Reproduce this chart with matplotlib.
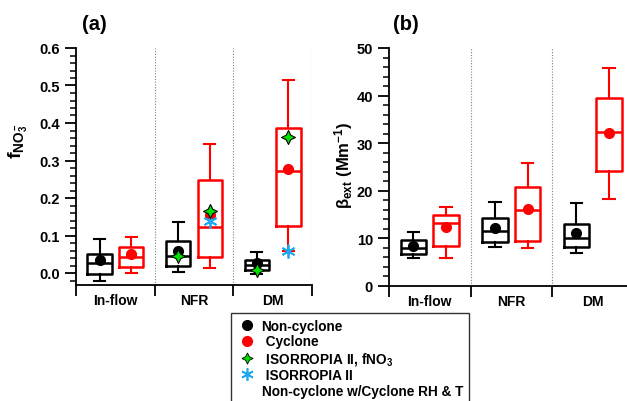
import numpy as np
import matplotlib.pyplot as plt
from matplotlib.lines import Line2D

# ---------------------------------------------------------------
# Data
# ---------------------------------------------------------------
categories = ["In-flow", "NFR", "DM"]

# (a) f NO3- : whisker low, q1, median, q3, whisker high, mean
fno3_non_lo = [-0.020, 0.003, -0.003]
fno3_non_q1 = [-0.002, 0.020, 0.009]
fno3_non_med = [0.028, 0.046, 0.022]
fno3_non_q3 = [0.050, 0.085, 0.036]
fno3_non_hi = [0.090, 0.137, 0.055]
fno3_non_mean = [0.034, 0.058, 0.026]

fno3_cyc_lo = [0.000, 0.013, 0.060]
fno3_cyc_q1 = [0.016, 0.044, 0.125]
fno3_cyc_med = [0.042, 0.122, 0.273]
fno3_cyc_q3 = [0.069, 0.247, 0.388]
fno3_cyc_hi = [0.097, 0.345, 0.516]
fno3_cyc_mean = [0.052, 0.155, 0.277]

# ISORROPIA II results
iso_fno3_non = [np.nan, 0.046, 0.008]
iso_fno3_cyc = [np.nan, 0.165, 0.362]
iso_rh_t = [np.nan, 0.140, 0.058]

# (b) beta ext [Mm-1]
bext_non_lo = [5.9, 8.2, 6.9]
bext_non_q1 = [6.7, 9.3, 8.1]
bext_non_med = [7.9, 11.5, 10.1]
bext_non_q3 = [9.7, 14.2, 13.0]
bext_non_hi = [11.4, 17.7, 17.4]
bext_non_mean = [8.3, 12.1, 11.1]

bext_cyc_lo = [5.9, 7.9, 18.3]
bext_cyc_q1 = [8.3, 9.5, 24.2]
bext_cyc_med = [13.2, 16.0, 32.4]
bext_cyc_q3 = [14.9, 20.9, 39.4]
bext_cyc_hi = [16.7, 25.8, 45.9]
bext_cyc_mean = [12.5, 16.1, 32.1]

# ---------------------------------------------------------------
# Style
# ---------------------------------------------------------------
plt.rcParams["font.family"] = ["Liberation Sans", "DejaVu Sans"]
plt.rcParams["font.weight"] = "bold"
plt.rcParams["mathtext.fontset"] = "custom"
plt.rcParams["mathtext.rm"] = "Liberation Sans:bold"
plt.rcParams["mathtext.bf"] = "Liberation Sans:bold"
plt.rcParams["mathtext.it"] = "Liberation Sans:bold"
plt.rcParams["mathtext.default"] = "bf"

RED = "#ff0000"
GREEN = "#00e000"
CYAN = "#1ea8f0"
offset = 0.2
width = 0.31

sparkle = [(0, 1), (0.33, 0.33), (1, 0), (0.33, -0.33), (0, -1),
           (-0.33, -0.33), (-1, 0), (-0.33, 0.33), (0, 1)]


def make_stats(lo, q1, med, q3, hi, mean):
    return [dict(whislo=a, q1=b, med=c, q3=d, whishi=e, mean=f, fliers=[])
            for a, b, c, d, e, f in zip(lo, q1, med, q3, hi, mean)]


def draw_boxes(ax, stats, pos, color):
    ax.bxp(stats, positions=pos, widths=width, showmeans=True, showfliers=False,
           capwidths=0.14, manage_ticks=False,
           boxprops=dict(color=color, lw=1.8),
           medianprops=dict(color=color, lw=1.8),
           whiskerprops=dict(color=color, lw=1.5),
           capprops=dict(color=color, lw=1.5),
           meanprops=dict(marker="o", markerfacecolor=color, markeredgecolor=color,
                          markersize=7))


def style_axis(ax, major, minor):
    x = np.arange(len(categories))
    ax.set_xlim(-0.5, len(categories) - 0.5)
    for b in np.arange(0.5, len(categories), 1.0):
        ax.axvline(b, color="#808080", lw=0.8, ls=(0, (1, 1.5)), zorder=0)
    ax.set_xticks(np.arange(-0.5, len(categories), 1.0))
    ax.set_xticklabels([])
    ax.set_xticks(x, minor=True)
    ax.set_xticklabels(categories, minor=True, fontsize=10, fontweight="bold")
    ax.tick_params(axis="x", which="major", direction="out", length=8, width=1.3)
    ax.tick_params(axis="x", which="minor", length=0, pad=6)
    ax.yaxis.set_major_locator(plt.MultipleLocator(major))
    ax.yaxis.set_minor_locator(plt.MultipleLocator(minor))
    ax.tick_params(axis="y", which="major", direction="out", length=8, width=1.3,
                   labelsize=10.5)
    ax.tick_params(axis="y", which="minor", direction="out", length=4.5, width=1.1)
    ax.spines["top"].set_visible(False)
    ax.spines["right"].set_visible(False)
    for s in ("left", "bottom"):
        ax.spines[s].set_linewidth(1.3)


fig = plt.figure(figsize=(6.27, 4.02), dpi=100)
ax1 = fig.add_axes([76 / 627, 116 / 402, 236 / 627, 237 / 402])
ax2 = fig.add_axes([389 / 627, 115 / 402, 244.5 / 627, 238 / 402])

x = np.arange(len(categories))

# --------------------------------------------------------------- 
# (a) fNO3-
# ---------------------------------------------------------------
draw_boxes(ax1, make_stats(fno3_non_lo, fno3_non_q1, fno3_non_med, fno3_non_q3,
                           fno3_non_hi, fno3_non_mean), x - offset, "black")
draw_boxes(ax1, make_stats(fno3_cyc_lo, fno3_cyc_q1, fno3_cyc_med, fno3_cyc_q3,
                           fno3_cyc_hi, fno3_cyc_mean), x + offset, RED)
ax1.plot(x - offset, iso_fno3_non, ls="none", marker=sparkle, ms=10,
         mfc=GREEN, mec="black", mew=0.8, zorder=5)
ax1.plot(x + offset, iso_fno3_cyc, ls="none", marker=sparkle, ms=10,
         mfc=GREEN, mec="black", mew=0.8, zorder=5)
ax1.plot(x + offset, iso_rh_t, ls="none", marker=(6, 2, 0), ms=10,
         mec=CYAN, mew=1.3, zorder=4)
ax1.set_ylim(-0.032, 0.6)
style_axis(ax1, 0.1, 0.02)
ax1.yaxis.set_major_formatter(plt.FormatStrFormatter("%.1f"))
ax1.set_ylabel(r"$f_{NO_3^-}$", fontsize=14)
ax1.yaxis.set_label_coords(-46 / 236, 0.61)

# --------------------------------------------------------------- 
# (b) beta ext
# ---------------------------------------------------------------
draw_boxes(ax2, make_stats(bext_non_lo, bext_non_q1, bext_non_med, bext_non_q3,
                           bext_non_hi, bext_non_mean), x - offset, "black")
draw_boxes(ax2, make_stats(bext_cyc_lo, bext_cyc_q1, bext_cyc_med, bext_cyc_q3,
                           bext_cyc_hi, bext_cyc_mean), x + offset, RED)
ax2.set_ylim(0, 50)
style_axis(ax2, 10, 2)
ax2.set_ylabel(r"$\beta_{ext}\ (Mm^{-1})$", fontsize=12)
ax2.yaxis.set_label_coords(-34 / 244.5, 0.51)

fig.text(94 / 627, 1 - 25 / 402, "(a)", fontsize=14.5, fontweight="bold",
         ha="center", va="center")
fig.text(406 / 627, 1 - 25 / 402, "(b)", fontsize=14.5, fontweight="bold",
         ha="center", va="center")

# --------------------------------------------------------------- 
# Legend
# ---------------------------------------------------------------
handles = [
    Line2D([], [], ls="none", marker="o", color="black", ms=7),
    Line2D([], [], ls="none", marker="o", color=RED, ms=7),
    Line2D([], [], ls="none", marker=sparkle, ms=8, mfc=GREEN, mec="black", mew=0.6),
    Line2D([], [], ls="none", marker=(6, 2, 0), ms=9, mec=CYAN, mew=1.2),
    Line2D([], [], ls="none"),
]
labels = ["Non-cyclone", " Cyclone", r" ISORROPIA II, fNO$_3$", " ISORROPIA II",
          "Non-cyclone w/Cyclone RH & T"]
leg = fig.legend(handles, labels, loc="upper left",
                 bbox_to_anchor=(231 / 627, 1 - 314 / 402), fontsize=9.8,
                 frameon=True, fancybox=False, edgecolor="black",
                 handlelength=1.5, handletextpad=0.3, labelspacing=0.1,
                 borderpad=0.45, borderaxespad=0)
leg.get_frame().set_linewidth(1.0)
for t in leg.get_texts():
    t.set_fontweight("bold")

fig.savefig("out.png", dpi=100)
